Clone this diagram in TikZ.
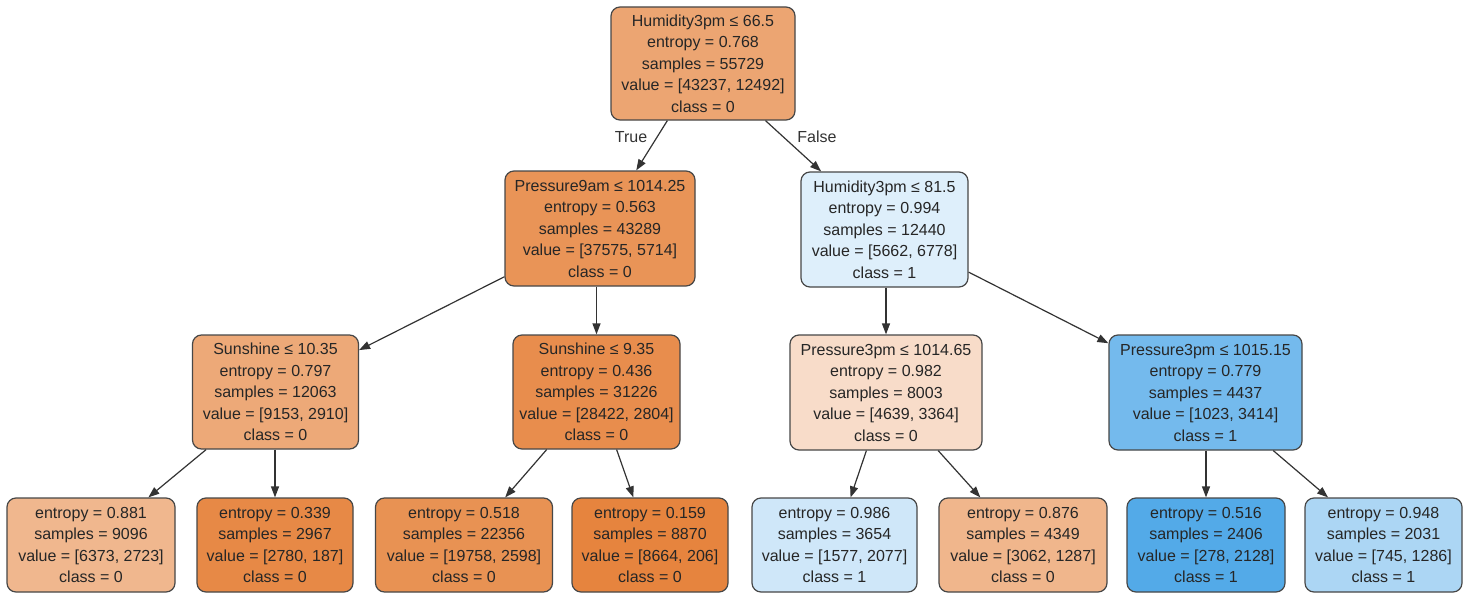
\documentclass[tikz,border=0pt]{standalone}
\usepackage{fontspec}
\setmainfont{Liberation Sans}
\usetikzlibrary{arrows.meta}
\definecolor{cRoot}{RGB}{236,165,114}
\definecolor{cPnine}{RGB}{233,148,87}
\definecolor{cHum}{RGB}{222,239,251}
\definecolor{cSunA}{RGB}{237,169,120}
\definecolor{cSunB}{RGB}{232,141,77}
\definecolor{cPthreeA}{RGB}{248,220,201}
\definecolor{cPthreeB}{RGB}{116,186,237}
\definecolor{cLa}{RGB}{240,183,142}
\definecolor{cLb}{RGB}{231,137,70}
\definecolor{cLc}{RGB}{232,146,83}
\definecolor{cLd}{RGB}{230,132,62}
\definecolor{cLe}{RGB}{207,231,249}
\definecolor{cLf}{RGB}{240,182,140}
\definecolor{cLg}{RGB}{83,170,232}
\definecolor{cLh}{RGB}{172,214,244}
\begin{document}
\begin{tikzpicture}[x=1pt,y=-1pt,
  tnode/.style={draw=black!72, line width=1.2pt, rounded corners=9pt, align=center,
    font=\fontsize{16}{21.5}\selectfont, text=black!85, inner sep=0pt},
  inner/.style={tnode, minimum height=115pt},
  leaf/.style={tnode, minimum height=94pt},
  tedge/.style={draw=black!80, line width=1.2pt, -{Triangle[length=11pt,width=8pt]}},
  elabel/.style={font=\fontsize{16}{19}\selectfont, text=black!80}]
\useasboundingbox (0,0) rectangle (1473,594);
\fill[white] (0,0) rectangle (1473,594);

\node[inner, fill=cRoot, minimum width=184pt, minimum height=113pt] (root) at (703,63.5)
  {Humidity3pm ≤ 66.5\\entropy = 0.768\\samples = 55729\\value = [43237, 12492]\\class = 0};
\node[inner, fill=cPnine, minimum width=190pt] (pnine) at (600,228.5)
  {Pressure9am ≤ 1014.25\\entropy = 0.563\\samples = 43289\\value = [37575, 5714]\\class = 0};
\node[inner, fill=cHum, minimum width=167pt] (hum) at (884.5,229.5)
  {Humidity3pm ≤ 81.5\\entropy = 0.994\\samples = 12440\\value = [5662, 6778]\\class = 1};
\node[inner, fill=cSunA, minimum width=166pt, minimum height=114pt] (suna) at (275.5,392)
  {Sunshine ≤ 10.35\\entropy = 0.797\\samples = 12063\\value = [9153, 2910]\\class = 0};
\node[inner, fill=cSunB, minimum width=167pt, minimum height=114pt] (sunb) at (596.5,392)
  {Sunshine ≤ 9.35\\entropy = 0.436\\samples = 31226\\value = [28422, 2804]\\class = 0};
\node[inner, fill=cPthreeA, minimum width=192pt] (pta) at (886,392.5)
  {Pressure3pm ≤ 1014.65\\entropy = 0.982\\samples = 8003\\value = [4639, 3364]\\class = 0};
\node[inner, fill=cPthreeB, minimum width=193pt] (ptb) at (1205.5,392.5)
  {Pressure3pm ≤ 1015.15\\entropy = 0.779\\samples = 4437\\value = [1023, 3414]\\class = 1};

\node[leaf, fill=cLa, minimum width=168pt] (la) at (91,545)
  {entropy = 0.881\\samples = 9096\\value = [6373, 2723]\\class = 0};
\node[leaf, fill=cLb, minimum width=156pt] (lb) at (275,545)
  {entropy = 0.339\\samples = 2967\\value = [2780, 187]\\class = 0};
\node[leaf, fill=cLc, minimum width=177pt] (lc) at (464,545)
  {entropy = 0.518\\samples = 22356\\value = [19758, 2598]\\class = 0};
\node[leaf, fill=cLd, minimum width=156pt] (ld) at (650,545)
  {entropy = 0.159\\samples = 8870\\value = [8664, 206]\\class = 0};
\node[leaf, fill=cLe, minimum width=165pt] (le) at (834.5,545)
  {entropy = 0.986\\samples = 3654\\value = [1577, 2077]\\class = 1};
\node[leaf, fill=cLf, minimum width=168pt] (lf) at (1023,545)
  {entropy = 0.876\\samples = 4349\\value = [3062, 1287]\\class = 0};
\node[leaf, fill=cLg, minimum width=158pt] (lg) at (1206,545)
  {entropy = 0.516\\samples = 2406\\value = [278, 2128]\\class = 1};
\node[leaf, fill=cLh, minimum width=157pt] (lh) at (1383.5,545)
  {entropy = 0.948\\samples = 2031\\value = [745, 1286]\\class = 1};

\draw[tedge] (root) -- (pnine);
\draw[tedge] (root) -- (hum);
\draw[tedge] (pnine) -- (suna);
\draw[tedge] (pnine.south -| sunb) -- (sunb);
\draw[tedge] (hum.south -| pta) -- (pta);
\draw[tedge] (hum) -- (ptb);
\draw[tedge] (suna) -- (la);
\draw[tedge] (suna.south -| lb) -- (lb);
\draw[tedge] (sunb) -- (lc);
\draw[tedge] (sunb) -- (ld);
\draw[tedge] (pta) -- (le);
\draw[tedge] (pta) -- (lf);
\draw[tedge] (ptb.south -| lg) -- (lg);
\draw[tedge] (ptb) -- (lh);

\node[elabel] (ltrue) at (631,137) {True};
\node[elabel] (lfalse) at (817,137) {False};
\end{tikzpicture}
\end{document}
